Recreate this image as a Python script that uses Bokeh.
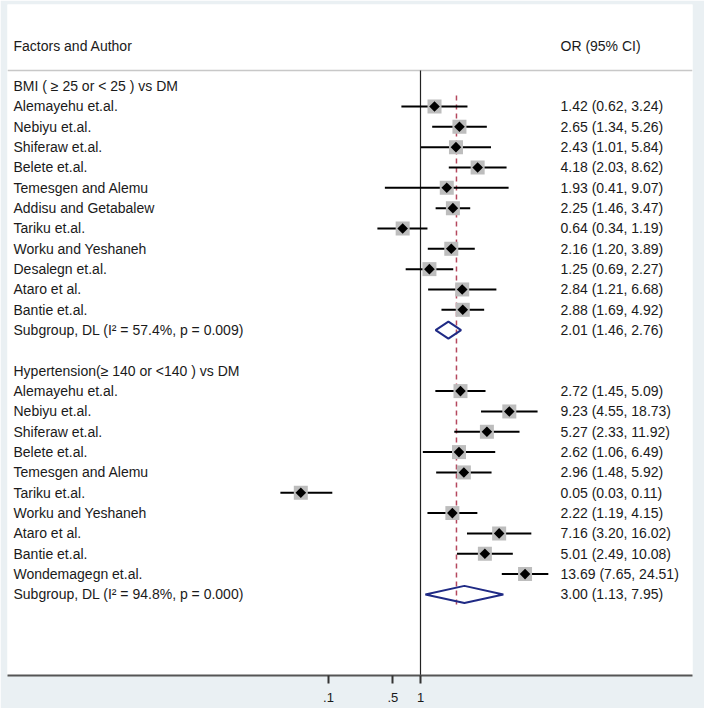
import math
from bokeh.plotting import figure
from bokeh.models import Range1d, FixedTicker, ColumnDataSource
from bokeh.embed import file_html
from bokeh.resources import INLINE
from bokeh.core.properties import value

# ---------------- data ----------------
header_left = "Factors and Author"
header_right = "OR (95% CI)"

bmi_title = "BMI ( \u2265 25 or < 25 ) vs DM"
bmi_authors = ["Alemayehu et.al.", "Nebiyu et.al.", "Shiferaw et.al.", "Belete et.al.",
               "Temesgen and Alemu", "Addisu and Getabalew", "Tariku et.al.",
               "Worku and Yeshaneh", "Desalegn et.al.", "Ataro et al.", "Bantie et.al."]
bmi_or = [1.42, 2.65, 2.43, 4.18, 1.93, 2.25, 0.64, 2.16, 1.25, 2.84, 2.88]
bmi_lo = [0.62, 1.34, 1.01, 2.03, 0.41, 1.46, 0.34, 1.20, 0.69, 1.21, 1.69]
bmi_hi = [3.24, 5.26, 5.84, 8.62, 9.07, 3.47, 1.19, 3.89, 2.27, 6.68, 4.92]
bmi_sub_label = "Subgroup, DL (I\u00b2 = 57.4%, p = 0.009)"
bmi_sub = [2.01, 1.46, 2.76]

ht_title = "Hypertension(\u2265 140 or <140 ) vs DM"
ht_authors = ["Alemayehu et.al.", "Nebiyu et.al.", "Shiferaw et.al.", "Belete et.al.",
              "Temesgen and Alemu", "Tariku et.al.", "Worku and Yeshaneh",
              "Ataro et al.", "Bantie et.al.", "Wondemagegn et.al."]
ht_or = [2.72, 9.23, 5.27, 2.62, 2.96, 0.05, 2.22, 7.16, 5.01, 13.69]
ht_lo = [1.45, 4.55, 2.33, 1.06, 1.48, 0.03, 1.19, 3.20, 2.49, 7.65]
ht_hi = [5.09, 18.73, 11.92, 6.49, 5.92, 0.11, 4.15, 16.02, 10.08, 24.51]
ht_sub_label = "Subgroup, DL (I\u00b2 = 94.8%, p = 0.000)"
ht_sub = [3.00, 1.13, 7.95]

overall_ref = 2.46
null_value = 1
tick_values = [0.1, 0.5, 1]
tick_labels = [".1", ".5", "1"]

# ---------------- layout ----------------
FONT = value("Liberation Sans")
FS = "14px"
TXT = "#1a1a1a"

def fmt(o, l, h):
    return f"{o:.2f} ({l:.2f}, {h:.2f})"

PX_PER_DEC = 92.0
X_NULL_PX = 420.0
def xpx(px):
    return 10 ** ((px - X_NULL_PX) / PX_PER_DEC)

X_LEFT = xpx(13)
X_RIGHT = xpx(560)

W, H = 704, 708
FL, FR, FT, FB = 7, 692, 4, 675
ROW0, ROWH = 45.0, 20.33
def rowpx(px):
    return (px - ROW0) / ROWH

p = figure(width=W, height=H, x_axis_type="log",
           x_range=Range1d(xpx(FL), xpx(FR)),
           y_range=Range1d(rowpx(FB), rowpx(FT)),
           output_backend="svg", toolbar_location=None,
           min_border_left=FL, min_border_right=W - FR, min_border_top=FT,
           min_border_bottom=H - FB)
p.background_fill_color = "white"
p.border_fill_color = "#eaf0f3"
p.outline_line_color = None
p.xgrid.visible = False
p.ygrid.visible = False
p.yaxis.visible = False

ax = p.xaxis[0]
ax.ticker = FixedTicker(ticks=tick_values)
ax.major_label_overrides = {t: l for t, l in zip(tick_values, tick_labels)}
ax.axis_line_color = "#555555"
ax.axis_line_width = 2
ax.major_tick_line_color = "#333333"
ax.major_tick_line_width = 2
ax.major_tick_out = 8
ax.major_tick_in = 0
ax.minor_tick_line_color = None
ax.major_label_text_font = "Liberation Sans"
ax.major_label_text_font_size = "13px"
ax.major_label_text_color = TXT
ax.major_label_standoff = 9

# rows
bmi_title_row = 2
bmi_rows = [3 + i for i in range(len(bmi_authors))]
bmi_sub_row = bmi_rows[-1] + 1
ht_title_row = bmi_sub_row + 2
ht_rows = [ht_title_row + 1 + i for i in range(len(ht_authors))]
ht_sub_row = ht_rows[-1] + 1

# separator line under header
p.line(x=[xpx(FL), xpx(FR)], y=[rowpx(70), rowpx(70)], line_color="#c8c8c8", line_width=1.5)
# null line
p.segment(x0=[null_value], x1=[null_value], y0=[rowpx(70)], y1=[rowpx(FB)],
          line_color="#222222", line_width=1.2)
# overall dashed line
p.segment(x0=[overall_ref], x1=[overall_ref], y0=[rowpx(95)], y1=[rowpx(605)],
          line_color="#b5485e", line_width=1.5, line_dash="5 4")

# study CIs and markers
all_or = bmi_or + ht_or
all_lo = bmi_lo + ht_lo
all_hi = bmi_hi + ht_hi
all_rows = bmi_rows + ht_rows
src = ColumnDataSource(dict(est=all_or, lo=all_lo, hi=all_hi, y=all_rows))
p.segment(x0="lo", x1="hi", y0="y", y1="y", source=src, line_color="black", line_width=2)
p.scatter(x="est", y="y", source=src, marker="square", size=14, fill_color="#bdbdbd",
          line_color=None)
p.scatter(x="est", y="y", source=src, marker="square", size=7.5, angle=math.pi / 4,
          fill_color="black", line_color=None)

# subgroup diamonds
h = 0.42
xs, ys = [], []
for sub, r in ((bmi_sub, bmi_sub_row), (ht_sub, ht_sub_row)):
    est, lo, hi = sub
    xs.append([lo, est, hi, est])
    ys.append([r, r - h, r, r + h])
p.patches(xs=xs, ys=ys, fill_color=None, line_color="#1f2a85", line_width=2)

# texts
lt, ly, rt, ry = [], [], [], []
lt.append(header_left); ly.append(0)
rt.append(header_right); ry.append(0)
lt.append(bmi_title); ly.append(bmi_title_row)
for a, r, o, l, hh in zip(bmi_authors, bmi_rows, bmi_or, bmi_lo, bmi_hi):
    lt.append(a); ly.append(r)
    rt.append(fmt(o, l, hh)); ry.append(r)
lt.append(bmi_sub_label); ly.append(bmi_sub_row)
rt.append(fmt(*bmi_sub)); ry.append(bmi_sub_row)
lt.append(ht_title); ly.append(ht_title_row)
for a, r, o, l, hh in zip(ht_authors, ht_rows, ht_or, ht_lo, ht_hi):
    lt.append(a); ly.append(r)
    rt.append(fmt(o, l, hh)); ry.append(r)
lt.append(ht_sub_label); ly.append(ht_sub_row)
rt.append(fmt(*ht_sub)); ry.append(ht_sub_row)

p.text(x=[X_LEFT] * len(lt), y=ly, text=lt, text_font=FONT, text_font_size=FS,
       text_color=TXT, text_baseline="middle", text_align="left")
p.text(x=[X_RIGHT] * len(rt), y=ry, text=rt, text_font=FONT, text_font_size=FS,
       text_color=TXT, text_baseline="middle", text_align="left")

open("out.html", "w").write(file_html(p, INLINE))
